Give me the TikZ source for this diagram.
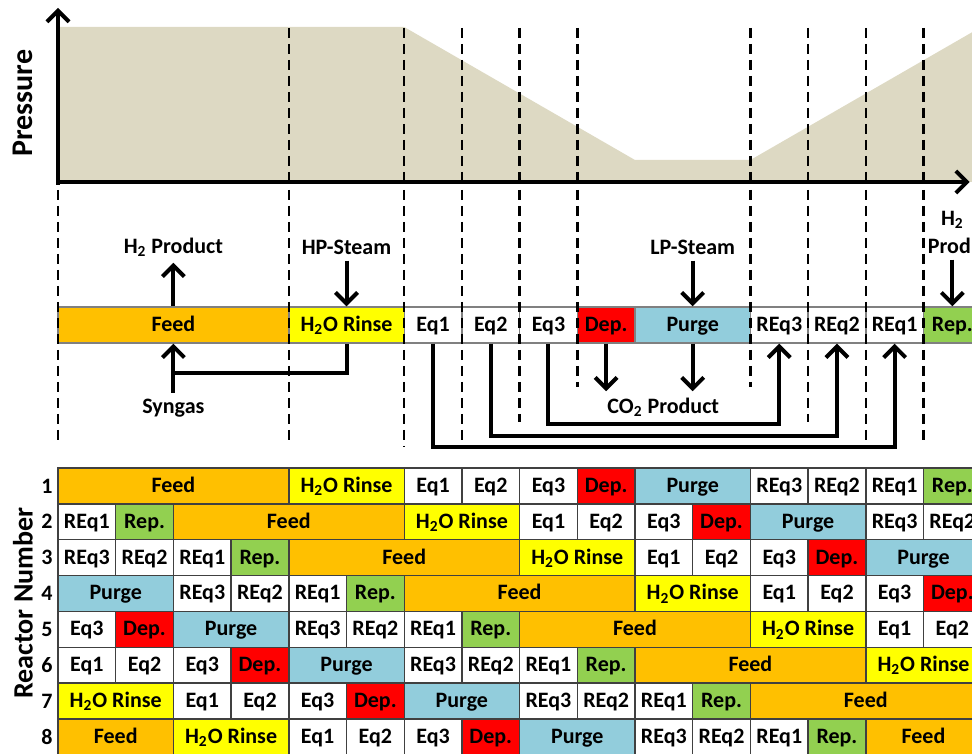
\documentclass[tikz,border=0pt]{standalone}
\usepackage{fontspec}
\setmainfont{Carlito}
\usetikzlibrary{arrows.meta}

\definecolor{feedc}{RGB}{255,192,0}
\definecolor{rinsec}{RGB}{255,255,0}
\definecolor{depc}{RGB}{255,0,0}
\definecolor{purgec}{RGB}{146,205,220}
\definecolor{repc}{RGB}{146,208,80}
\definecolor{pressc}{RGB}{221,217,195}

\tikzset{
  cell/.style={draw=black!75, line width=0.7pt, minimum height=17.9pt, inner sep=0pt,
    text height=8pt, text depth=1.5pt, font=\fontsize{11}{13}\selectfont\bfseries},
  phase/.style={cell, draw=black!50, minimum height=18pt},
  lbl/.style={inner sep=3pt, font=\fontsize{11}{14}\selectfont\bfseries},
  flow/.style={line width=2pt, -{Straight Barb[length=5.5pt,width=11pt]}},
  route/.style={line width=2pt},
  divline/.style={line width=1.2pt, dash pattern=on 5pt off 3pt},
  axis/.style={line width=2pt, -{Straight Barb[length=5.5pt,width=11pt]}},
}

\begin{document}
\begin{tikzpicture}[x=28.85pt, y=-0.5pt]
    \clip (-1.0052,0) rectangle (15.8406,754);

    % pressure profile
    \fill[pressc] (0,27) -- (6,27) -- (10,160) -- (12,160) -- (16,27) -- (16,182) -- (0,182) -- cycle;
    \node[rotate=90, font=\fontsize{15}{18}\selectfont\bfseries] (pressure) at (-0.61,103) {Pressure};

    % steps of one reactor
    \foreach \s/\w/\txt/\col/\nm in {0/4/Feed/feedc/feed, 4/2/{H\textsubscript{2}O Rinse}/rinsec/rinse,
        6/1/Eq1/white/eq1, 7/1/Eq2/white/eq2, 8/1/Eq3/white/eq3, 9/1/Dep./depc/dep,
        10/2/Purge/purgec/purge, 12/1/REq3/white/req3, 13/1/REq2/white/req2,
        14/1/REq1/white/req1, 15/1/Rep./repc/rep}
        \node[phase, fill=\col, minimum width={\w*28.85pt}] (\nm) at (\s+\w/2,325) {\txt};

    % step boundaries
    \foreach \s in {4,6,7,8,9,12,13,14,15}
        \draw[divline] (\s,28) -- (\s,182);
    \foreach \s/\e in {0/445,4/445,6/447,7/442,8/422,9/387,12/387,13/422,14/443,15/445}
        \draw[divline] (\s,190) -- (\s,\e);

    % axes
    \draw[axis] (0,185) -- (0,8);
    \draw[axis] (-0.03,182) -- (15.80,182);

    % streams
    \node[lbl] (h2prod) at (2,247) {H\textsubscript{2} Product};
    \node[lbl] (hpsteam) at (5,247) {HP-Steam};
    \node[lbl] (lpsteam) at (11,247) {LP-Steam};
    \node[lbl, align=center] (h2rep) at (15.5,232) {H\textsubscript{2}\\Prod.};
    \node[lbl] (syngas) at (2,408) {Syngas};
    \node[lbl] (co2) at (10.49,407) {CO\textsubscript{2} Product};

    \draw[flow] (feed.north) -- (h2prod.south);
    \draw[flow] (hpsteam.south) -- (rinse.north);
    \draw[flow] (lpsteam.south) -- (purge.north);
    \draw[flow] (h2rep.south) -- (rep.north);
    \draw[flow] (syngas.north) -- (feed.south);
    \coordinate (mix) at (2,373);
    \draw[route] (rinse.south) |- (mix);
    \draw[flow] (dep.south) -- (dep.south |- co2.north);
    \draw[flow] (purge.south) -- (purge.south |- co2.north);

    % pressure equalisations
    \draw[flow] (eq3.south) -- ++(0,80) -| (req3.south);
    \draw[flow] (eq2.south) -- ++(0,92) -| (req2.south);
    \draw[flow] (eq1.south) -- ++(0,103) -| (req1.south);

    % schedule of the 8 reactors
    \node[rotate=90, font=\fontsize{14}{17}\selectfont\bfseries] (reactor) at (-0.607,603) {Reactor Number};
    \foreach \r in {1,...,8} {
        \pgfmathsetmacro\yc{468+(\r-0.5)*35.85}
        \node[font=\fontsize{11}{13}\selectfont\bfseries] (n\r) at (-0.19,\yc) {\r};
        \foreach \s/\w/\txt/\col in {0/4/Feed/feedc, 4/2/{H\textsubscript{2}O Rinse}/rinsec,
            6/1/Eq1/white, 7/1/Eq2/white, 8/1/Eq3/white, 9/1/Dep./depc,
            10/2/Purge/purgec, 12/1/REq3/white, 13/1/REq2/white,
            14/1/REq1/white, 15/1/Rep./repc} {
            \pgfmathsetmacro\a{mod(\s+2*\r-2,16)}
            \pgfmathsetmacro\b{min(\a+\w,16)}
            \pgfmathsetmacro\e{\a+\w-16}
            \node[cell, fill=\col, minimum width={(\b-\a)*28.85pt}] (r\r-\s) at ({(\a+\b)/2},\yc) {\txt};
            \ifdim\e pt>0pt
                \node[cell, fill=\col, minimum width={\e*28.85pt}] (r\r-\s-b) at ({\e/2},\yc) {\txt};
            \fi
        }
    }
\end{tikzpicture}
\end{document}
